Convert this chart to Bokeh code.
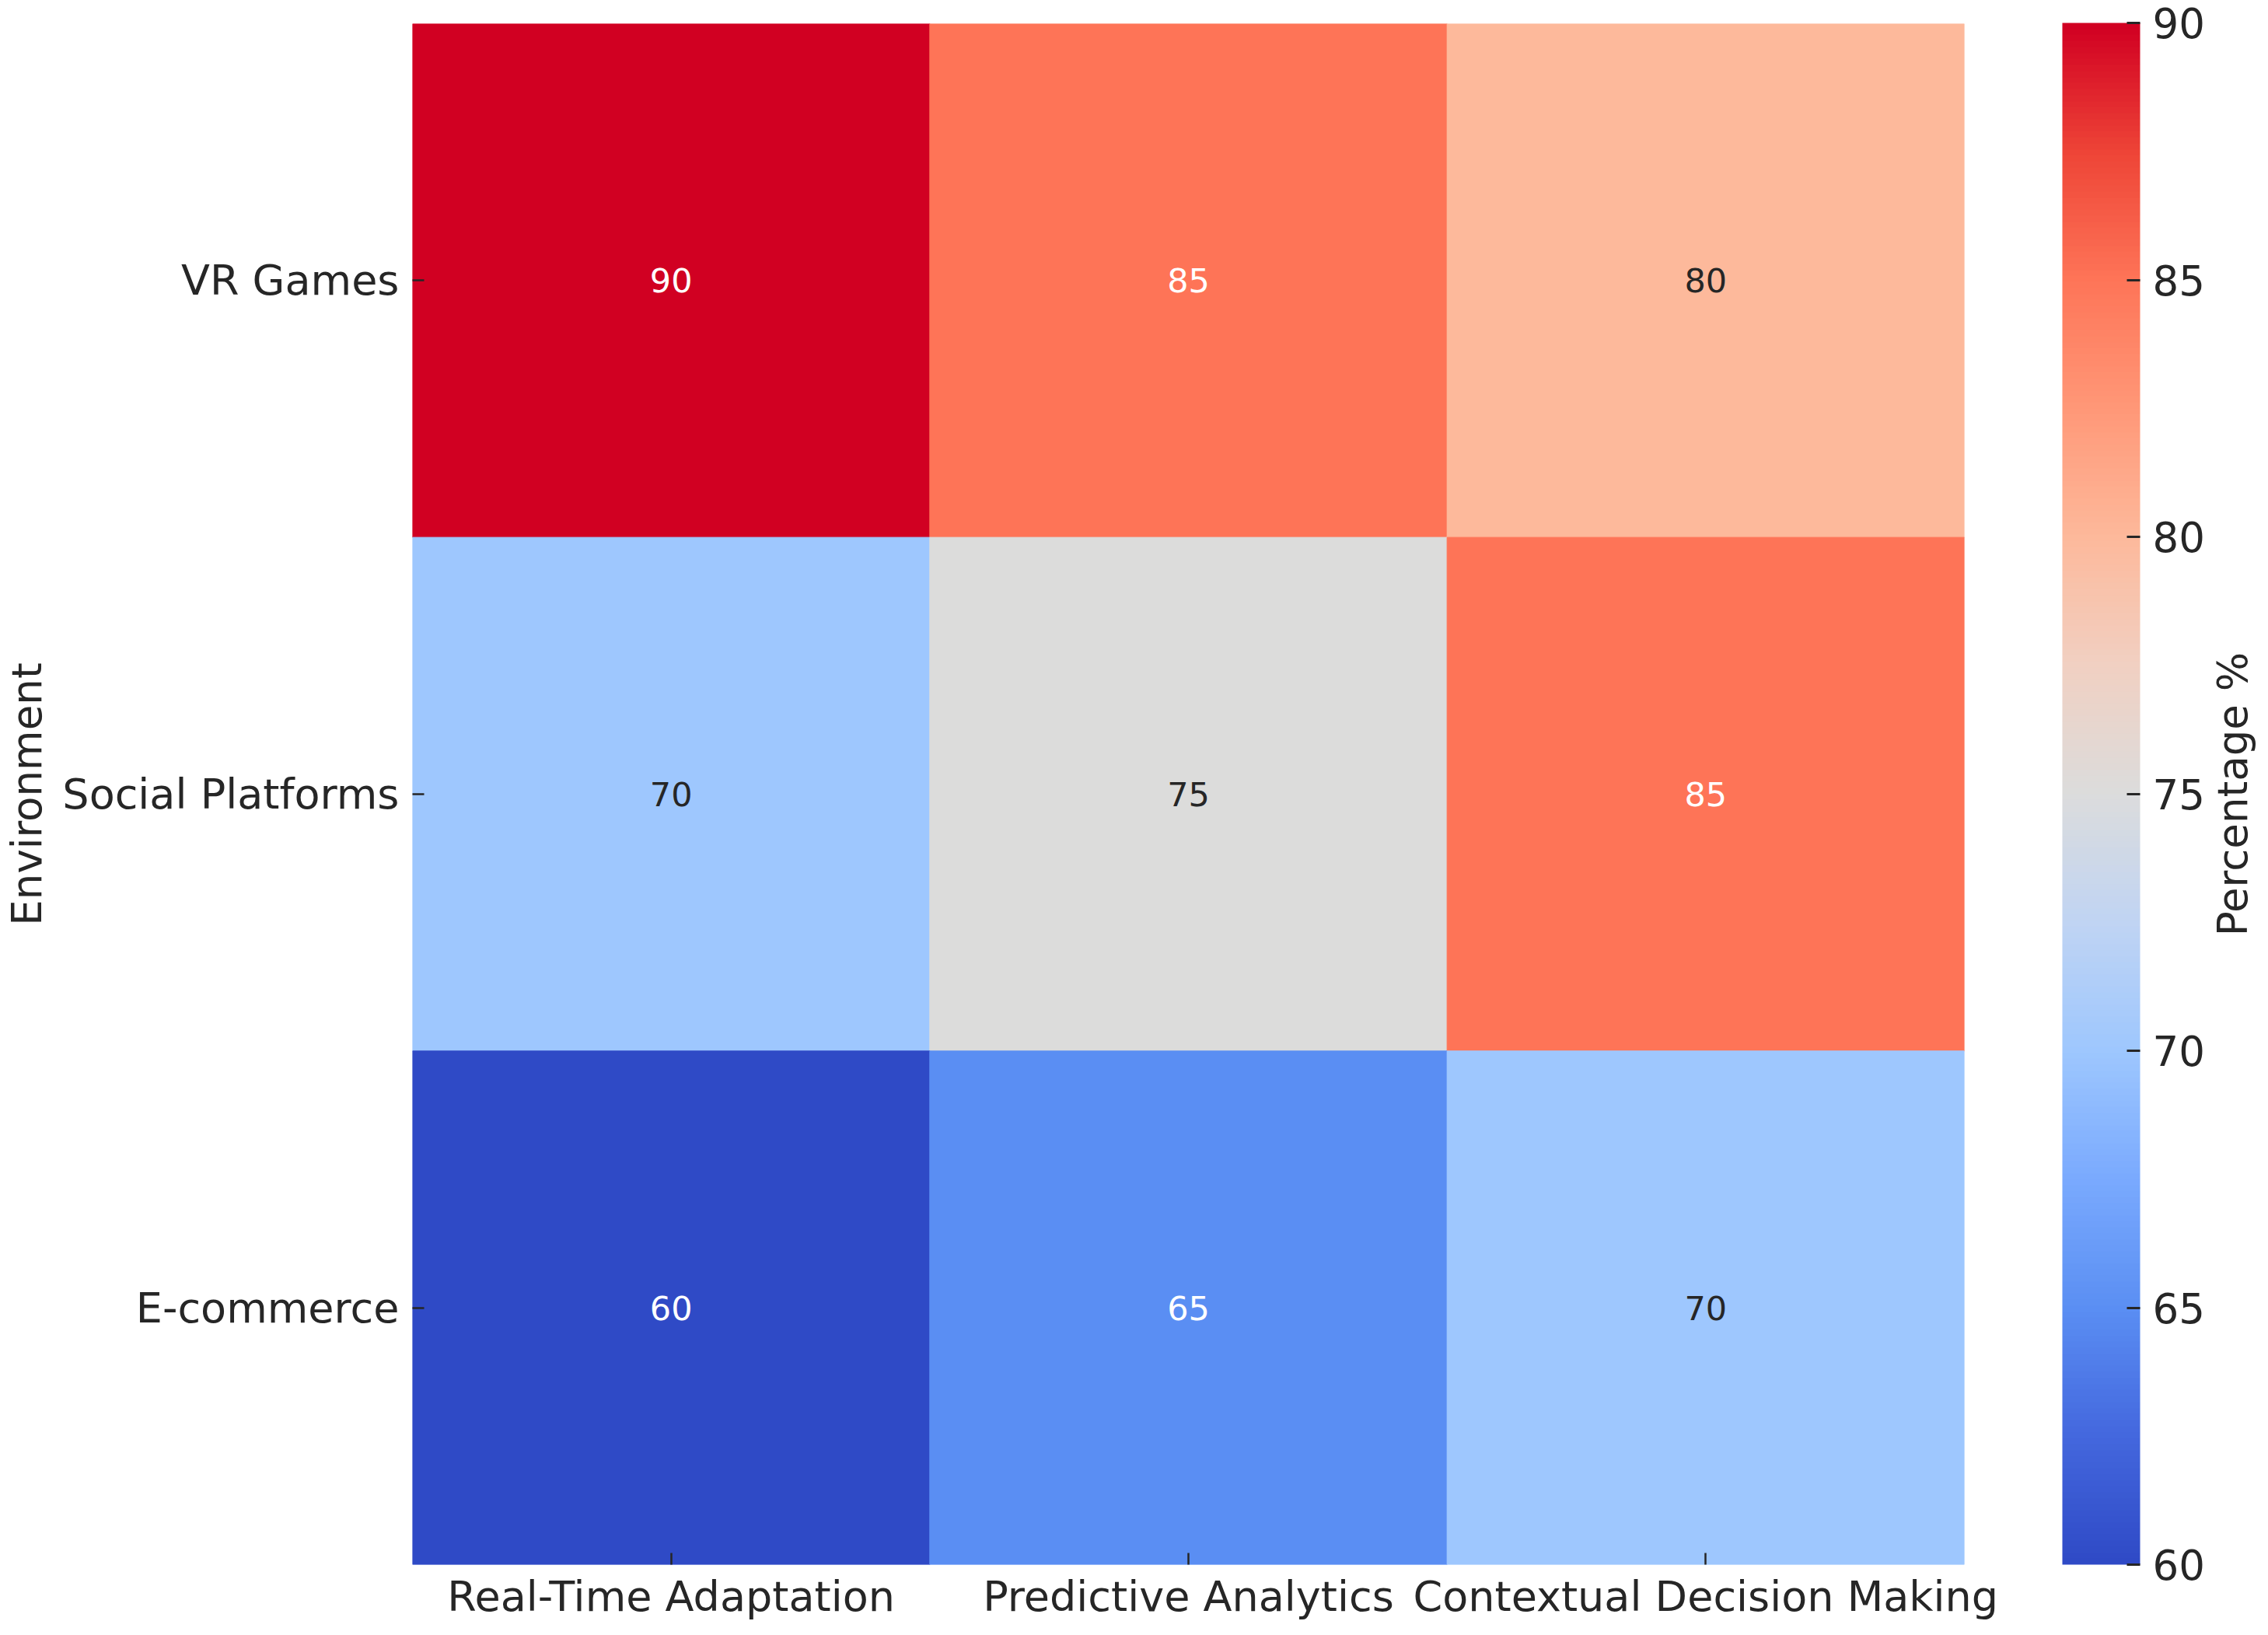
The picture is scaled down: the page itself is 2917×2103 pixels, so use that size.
import numpy as np
from bokeh.plotting import figure
from bokeh.layouts import row
from bokeh.models import (ColumnDataSource, LinearColorMapper, ColorBar,
                          FixedTicker, FactorRange, Range1d)
from bokeh.transform import transform
from bokeh.core.properties import value
from bokeh.embed import file_html
from bokeh.resources import INLINE

# ---------------- data ----------------
environments = ["VR Games", "Social Platforms", "E-commerce"]
features = ["Real-Time Adaptation", "Predictive Analytics", "Contextual Decision Making"]
vr_games = [90, 85, 80]
social_platforms = [70, 75, 85]
e_commerce = [60, 65, 70]
cbar_ticks = [60, 65, 70, 75, 80, 85, 90]
cbar_low, cbar_high = 60, 90
cbar_title = "Percentage %"
y_title = "Environment"

# ---------------- colormap (coolwarm-like, as seen in the picture) ----------------
anchor_hex = ["#2F4AC6", "#4468DE", "#5B8FF3", "#7AAAFE", "#9EC7FE", "#C0D4F3",
              "#DCDCDC", "#F1D0C2", "#FDB99B", "#FF9878", "#FE7558", "#EE4537", "#D10022"]
anchor_rgb = np.array([[int(h[i:i + 2], 16) for i in (1, 3, 5)] for h in anchor_hex], float)
anchor_pos = np.linspace(0, 1, len(anchor_hex))
t = np.linspace(0, 1, 256)
pal_rgb = np.stack([np.interp(t, anchor_pos, anchor_rgb[:, k]) for k in range(3)], axis=1)
palette = ["#%02x%02x%02x" % tuple(int(round(c)) for c in row_) for row_ in pal_rgb]
mapper = LinearColorMapper(palette=palette, low=cbar_low, high=cbar_high)


def mapped_rgb(v):
    idx = int(min(255, max(0, np.floor((v - cbar_low) / (cbar_high - cbar_low) * 256))))
    return pal_rgb[idx] / 255.0


def text_color_for(v):
    rgb = mapped_rgb(v)
    lin = np.where(rgb <= 0.03928, rgb / 12.92, ((rgb + 0.055) / 1.055) ** 2.4)
    lum = 0.2126 * lin[0] + 0.7152 * lin[1] + 0.0722 * lin[2]
    return "#262626" if lum > 0.408 else "#ffffff"


rows = [vr_games, social_platforms, e_commerce]
xs, ys, vals, labels, tcolors = [], [], [], [], []
for env, r in zip(environments, rows):
    for feat, v in zip(features, r):
        xs.append(feat)
        ys.append(env)
        vals.append(v)
        labels.append(str(v))
        tcolors.append(text_color_for(v))

source = ColumnDataSource(dict(x=xs, y=ys, val=vals, label=labels, tcolor=tcolors))

# ---------------- layout ----------------
FONT = "DejaVu Sans"
TXT = "#262626"
W_TOTAL, H = 2901, 2087
W1 = 2837
W2 = W_TOTAL - W1
LEFT, TOP = 530, 30
FW, FH = 1996, 1983
BOTTOM = H - TOP - FH

p = figure(
    width=W1, height=H,
    x_range=FactorRange(*features),
    y_range=FactorRange(*list(reversed(environments))),
    output_backend="svg", toolbar_location=None,
    min_border_left=LEFT, min_border_right=W1 - LEFT - FW,
    min_border_top=TOP, min_border_bottom=BOTTOM,
)
p.outline_line_color = None
p.grid.visible = False
p.background_fill_color = "white"
p.border_fill_color = "white"

p.rect(x="x", y="y", width=1, height=1, source=source,
       fill_color=transform("val", mapper), line_color=transform("val", mapper), line_width=1)

p.text(x="x", y="y", text="label", source=source, text_align="center",
       text_baseline="middle", text_font=value(FONT), text_font_size=value("43px"),
       text_color="tcolor")

for ax in (p.xaxis[0], p.yaxis[0]):
    ax.axis_line_color = None
    ax.major_tick_in = 15
    ax.major_tick_out = 0
    ax.major_tick_line_color = TXT
    ax.major_tick_line_width = 2.5
    ax.minor_tick_line_color = None
    ax.major_label_text_font = FONT
    ax.major_label_text_font_size = "54px"
    ax.major_label_text_color = TXT

p.xaxis.major_label_standoff = 9
p.yaxis.major_label_standoff = 17
p.yaxis.axis_label = y_title
p.yaxis.axis_label_text_font = FONT
p.yaxis.axis_label_text_font_size = "53px"
p.yaxis.axis_label_text_font_style = "normal"
p.yaxis.axis_label_text_color = TXT
p.yaxis.axis_label_standoff = 12

color_bar = ColorBar(
    color_mapper=mapper, ticker=FixedTicker(ticks=cbar_ticks),
    location=(2122, 0), width=100, height=FH, padding=0, margin=0,
    label_standoff=16,
    major_label_text_font=FONT, major_label_text_font_size="53px",
    major_label_text_color=TXT,
    major_tick_in=17, major_tick_out=0, major_tick_line_color=TXT,
    major_tick_line_width=3, minor_tick_line_color=None,
    bar_line_color=None, border_line_color=None, background_fill_color=None,
)
p.add_layout(color_bar)

# narrow companion figure that only carries the colour-bar title (reads bottom-to-top)
p2 = figure(
    width=W2, height=H, x_range=Range1d(0, 1), y_range=Range1d(0, 1),
    output_backend="svg", toolbar_location=None,
    min_border_left=0, min_border_right=0, min_border_top=TOP, min_border_bottom=BOTTOM,
)
p2.outline_line_color = None
p2.grid.visible = False
p2.background_fill_color = "white"
p2.border_fill_color = "white"
p2.xaxis.visible = False
ay = p2.yaxis[0]
ay.ticker = FixedTicker(ticks=[])
ay.axis_line_color = None
ay.major_tick_in = 0
ay.major_tick_out = 0
ay.minor_tick_line_color = None
ay.major_label_standoff = 0
ay.axis_label = cbar_title
ay.axis_label_standoff = 0
ay.axis_label_text_font = FONT
ay.axis_label_text_font_size = "53px"
ay.axis_label_text_font_style = "normal"
ay.axis_label_text_color = TXT

layout = row(p, p2, spacing=0)
open("out.html", "w").write(file_html(layout, INLINE))
